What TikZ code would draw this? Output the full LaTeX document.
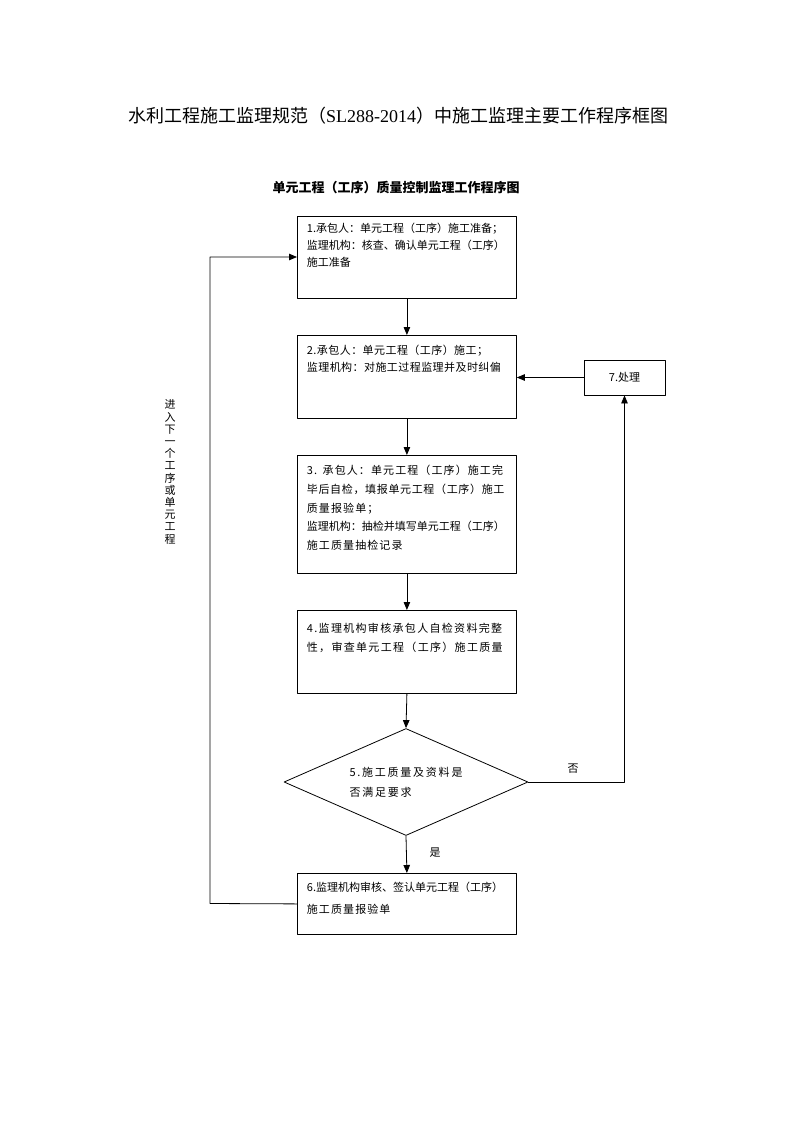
\documentclass[tikz,border=0pt]{standalone}
\usepackage{fontspec}
\usepackage{tikz}
\setmainfont{Liberation Serif}
\newfontfamily\cjk{Noto Sans CJK SC}
\usetikzlibrary{arrows.meta}
\usetikzlibrary{shapes.geometric}
\tikzset{
  stepbox/.style={draw,line width=0.8pt,anchor=north west,inner xsep=9.5pt,inner ysep=0pt,
    text width=200pt,align=left,font=\cjk\fontsize{11}{17}\selectfont},
  flow/.style={->,line width=0.8pt},
}

\begin{document}
\begin{tikzpicture}[line cap=round,line join=round,>={Triangle[length=8pt,width=6.5pt]},x=1pt,y=-1pt]
            \useasboundingbox (0,0) rectangle (793,1122);
            \node (title) at (398,116) {\fontsize{18}{20}\selectfont{\cjk 水利工程施工监理规范（}SL288-2014{\cjk ）中施工监理主要工作程序框图}};
            \node[font=\cjk\bfseries\fontsize{13}{15}\selectfont] (subtitle) at (396,188) {单元工程（工序）质量控制监理工作程序图};
            \node[stepbox,text height=16pt,text depth=66pt] (b1) at (297,216) {1.承包人：单元工程（工序）施工准备；\\监理机构：核查、确认单元工程（工序）\\施工准备};
            \node[stepbox,text height=19pt,text depth=64pt,font=\cjk\addfontfeature{LetterSpace=4}\fontsize{11}{17}\selectfont] (b2) at (297,335) {2.承包人：单元工程（工序）施工；\\监理机构：对施工过程监理并及时纠偏};
            \node[stepbox,text height=19pt,text depth=99pt,font=\cjk\fontsize{11}{18.8}\selectfont] (b3) at (297,455) {{\addfontfeature{LetterSpace=10}3. 承包人：单元工程（工序）施工完}\\{\addfontfeature{LetterSpace=6}毕后自检，填报单元工程（工序）施工}\\{\addfontfeature{LetterSpace=10}质量报验单；}\\监理机构：抽检并填写单元工程（工序）\\{\addfontfeature{LetterSpace=10}施工质量抽检记录}};
            \node[stepbox,text height=22pt,text depth=61pt,font=\cjk\addfontfeature{LetterSpace=12}\fontsize{11}{19}\selectfont] (b4) at (297,610) {4.监理机构审核承包人自检资料完整\\性，审查单元工程（工序）施工质量};
            \node[diamond,draw,line width=0.8pt,minimum width=244pt,minimum height=107pt,shape aspect=2.3,inner sep=0pt,align=left,font=\cjk\addfontfeature{LetterSpace=16}\fontsize{11}{20}\selectfont] (d5) at (406,782) {5.施工质量及资料是\\否满足要求};
            \node[stepbox,text height=18pt,text depth=43pt,font=\cjk\fontsize{11}{22}\selectfont] (b6) at (297,873) {6.监理机构审核、签认单元工程（工序）\\{\addfontfeature{LetterSpace=10}施工质量报验单}};
            \node[draw,line width=0.8pt,minimum width=81pt,minimum height=35pt,font=\cjk\fontsize{11}{13}\selectfont] (b7) at (624.5,377.5) {7.处理};
            \node[font=\cjk\fontsize{11}{12.2}\selectfont,align=center] (next) at (170,472) {进\\入\\下\\一\\个\\工\\序\\或\\单\\元\\工\\程};
            \node[font=\cjk\fontsize{11}{13}\selectfont] (yes) at (435,853) {是};
            \node[font=\cjk\fontsize{11}{13}\selectfont] (no) at (573,769) {否};
            \coordinate (lb) at (210,903.5);
            \coordinate (lt) at (210,257);
            \draw [flow] (b1.south) -- (b2.north);
            \draw [flow] (b2.south) -- (b3.north);
            \draw [flow] (b3.south) -- (b4.north);
            \draw [flow] (b4.south) -- (d5.north);
            \draw [flow] (d5.south) -- (b6.north);
            \draw [flow] (d5.east) -| (b7.south);
            \draw [flow] (b7.west) -- (b7.west -| b2.east);
            \draw [flow] (b6.west) -- (lb) -- (lt) -- (lt -| b1.west);
\end{tikzpicture}
\end{document}
